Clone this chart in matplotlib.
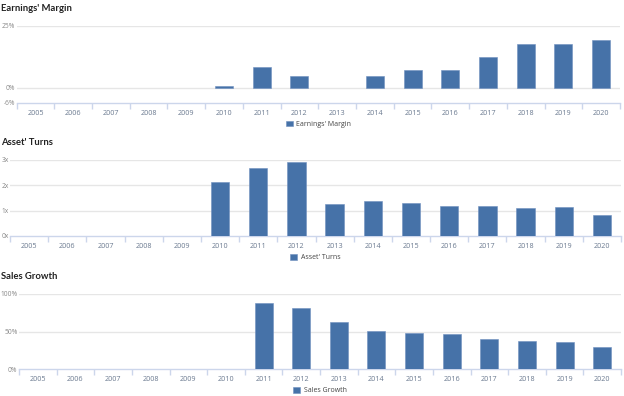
import matplotlib.pyplot as plt
import numpy as np

years = [str(y) for y in range(2005, 2021)]

# values (None = no bar)
earnings_margin = [None, None, None, None, None, 0.7, 8.6, 4.8, None, 4.6, 7.1, 7.1, 12.3, 17.6, 17.6, 19.5]
asset_turns = [None, None, None, None, None, 2.15, 2.70, 2.92, 1.25, 1.37, 1.30, 1.20, 1.17, 1.09, 1.15, 0.82]
sales_growth = [None, None, None, None, None, None, 88, 81.5, 63, 51, 48, 47, 39.7, 37, 36.5, 30]

panels = [
    ("Earnings' Margin", earnings_margin, (-6, 25), [-6, 0, 25], ["-6%", "0%", "25%"], (16.6, 620, 26, 102.6), 8.5),
    ("Asset' Turns", asset_turns, (0, 3), [0, 1, 2, 3], ["0x", "1x", "2x", "3x"], (10, 621, 160, 236), 142.5),
    ("Sales Growth", sales_growth, (0, 100), [0, 50, 100], ["0%", "50%", "100%"], (19, 621, 293.7, 369.3), 276.5),
]

W, H = 624, 396
bar_color = "#4672a8"
axis_color = "#ccd6eb"
grid_color = "#e6e6e6"
label_color = "#6b7a90"

fig = plt.figure(figsize=(W / 100, H / 100), dpi=100)
plt.rcParams['font.family'] = ['Open Sans', 'DejaVu Sans']

for title, vals, ylim, yticks, ylabels, (x0, x1, ytop, ybot), ty in panels:
    ax = fig.add_axes([x0 / W, 1 - ybot / H, (x1 - x0) / W, (ybot - ytop) / H])
    x = np.arange(len(years))
    heights = [v if v is not None else 0 for v in vals]
    mask = [v is not None for v in vals]
    xs = x[mask]
    hs = np.array(heights)[mask]
    ax.bar(xs, hs, width=0.48, color=bar_color, edgecolor="#6f8fbf", linewidth=0.4, zorder=3,
           label=title)
    ax.set_xlim(-0.5, len(years) - 0.5)
    ax.set_ylim(*ylim)
    ax.set_yticks(yticks)
    ax.set_yticklabels(ylabels)
    for yt in yticks:
        if yt != ylim[0]:
            ax.axhline(yt, color=grid_color, linewidth=1.0, zorder=1)
    for s in ["top", "right", "left"]:
        ax.spines[s].set_visible(False)
    ax.spines["bottom"].set_color(axis_color)
    ax.spines["bottom"].set_linewidth(1.0)
    ax.tick_params(axis="y", length=0, labelsize=4.8, labelcolor="#888888", pad=1)
    # category labels
    ax.set_xticks(x)
    ax.set_xticklabels(years)
    ax.tick_params(axis="x", length=0, labelsize=5.2, labelcolor=label_color, pad=5)
    # boundary tick marks
    ax.set_xticks(np.arange(-0.5, len(years), 1), minor=True)
    ax.tick_params(axis="x", which="minor", length=4, color=axis_color, width=1)
    # section title
    fig.text(1 / W, 1 - ty / H, title, fontsize=6.8, fontweight="bold", color="#222222",
             va="center", ha="left", family=["Lato", "DejaVu Sans"])
    leg = ax.legend(loc="upper center", bbox_to_anchor=(0.5, -0.2), frameon=False,
                    fontsize=5, handlelength=1.0, handleheight=0.9, handletextpad=0.5,
                    borderaxespad=0)
    for t in leg.get_texts():
        t.set_color("#444444")

fig.savefig("out.png", dpi=100)
